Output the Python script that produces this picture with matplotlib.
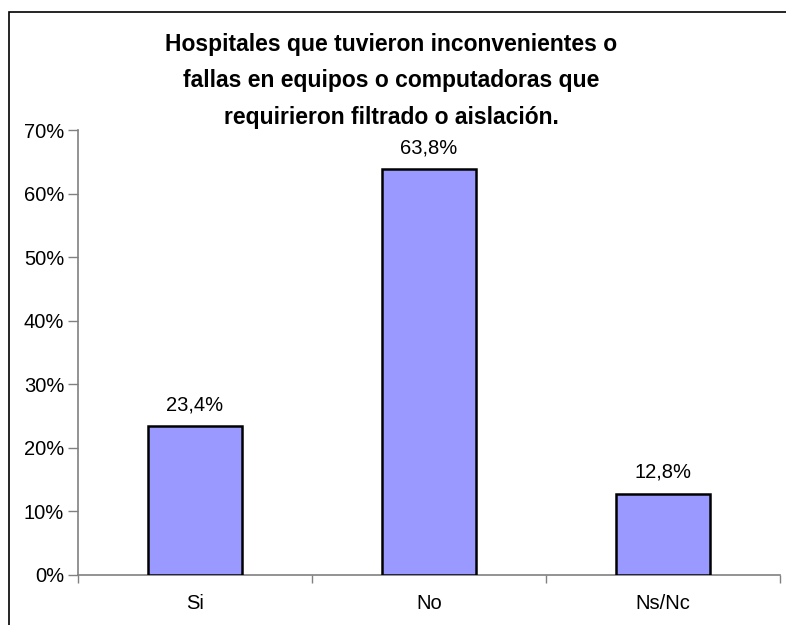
import matplotlib.pyplot as plt
from matplotlib.patches import Rectangle
from matplotlib.ticker import FuncFormatter

plt.rcParams['font.family'] = ['Liberation Sans', 'DejaVu Sans']

# datos
categorias = ["Si", "No", "Ns/Nc"]
valores = [23.4, 63.8, 12.8]
etiquetas = ["23,4%", "63,8%", "12,8%"]
titulo = ("Hospitales que tuvieron inconvenientes o\n"
          "fallas en equipos o computadoras que\n"
          "requirieron filtrado o aislación.")

fig = plt.figure(figsize=(7.86, 6.25), dpi=100)
ax = fig.add_axes([78/786, 50/625, 702/786, 445/625])

x = list(range(len(categorias)))
ax.bar(x, valores, width=0.4, color="#9999FF", edgecolor="black", linewidth=1.8, zorder=3)

for xi, v, t in zip(x, valores, etiquetas):
    ax.text(xi, v + 1.9, t, ha="center", va="bottom", fontsize=14.5)

ax.set_xlim(-0.5, 2.5)
ax.set_ylim(0, 70)
ax.set_yticks(range(0, 71, 10))
ax.yaxis.set_major_formatter(FuncFormatter(lambda v, p: f"{int(v)}%"))
ax.tick_params(axis="y", labelsize=14.5, length=7, width=1, color="#808080", pad=3)

# ticks del eje x entre categorias, etiquetas al centro
ax.set_xticks([-0.5, 0.5, 1.5, 2.5])
ax.set_xticklabels([])
ax.set_xticks(x, minor=True)
ax.set_xticklabels(categorias, minor=True, fontsize=14.5)
ax.tick_params(axis="x", which="major", length=6, width=1, color="#808080")
ax.tick_params(axis="x", which="minor", length=0, pad=14)

for s in ["top", "right"]:
    ax.spines[s].set_visible(False)
for s in ["left", "bottom"]:
    ax.spines[s].set_color("#808080")
    ax.spines[s].set_linewidth(1.2)

fig.text(391/786, 1 - 81/625, titulo, ha="center", va="center", fontsize=16.5,
         fontweight="bold", linespacing=1.75)

# borde del grafico (recortado a la derecha y abajo)
fig.patches.append(Rectangle((9/786, -0.1), 1.2, 1 - 12/625 + 0.1, transform=fig.transFigure,
                             fill=False, edgecolor="black", linewidth=1.2))

fig.savefig("out.png", dpi=100)
